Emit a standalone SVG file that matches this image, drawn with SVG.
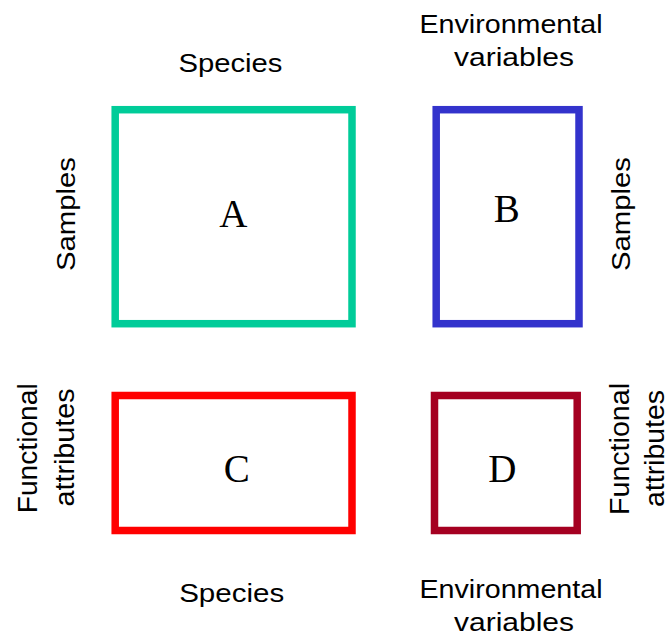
<svg xmlns="http://www.w3.org/2000/svg" width="670" height="641" viewBox="0 0 670 641">
<style>
.box{fill:none;stroke-width:7.5}
.let{font-family:"Liberation Serif","Times New Roman",serif;font-size:39px;fill:#000;text-anchor:middle}
.lab{font-family:"Liberation Sans",Arial,sans-serif;font-size:25px;fill:#000;text-anchor:middle}
.labv{font-family:"Liberation Sans",Arial,sans-serif;font-size:26px;fill:#000;text-anchor:middle}
.labf{font-family:"Liberation Sans",Arial,sans-serif;font-size:27px;fill:#000;text-anchor:middle}
</style>
<rect width="670" height="641" fill="#fff"/>
<g id="connectors"/>
<g id="nodeA">
<rect class="box" x="115.2" y="109.7" width="236.8" height="214" stroke="#00CC99"/>
<text class="let" x="233.3" y="226.7">A</text>
</g>
<g id="nodeB">
<rect class="box" x="436.2" y="109.7" width="142.8" height="214" stroke="#3333CC"/>
<text class="let" x="506.7" y="222.3">B</text>
</g>
<g id="nodeC">
<rect class="box" x="115.2" y="395.5" width="236.8" height="135" stroke="#FF0000"/>
<text class="let" x="236.7" y="481.7">C</text>
</g>
<g id="nodeD">
<rect class="box" x="434.5" y="395.5" width="142.7" height="135" stroke="#A50021"/>
<text class="let" x="502.3" y="481.7">D</text>
</g>
<g id="labels">
<text class="lab" x="230.5" y="72" textLength="104" lengthAdjust="spacingAndGlyphs">Species</text>
<text class="lab" x="231.7" y="602" textLength="105" lengthAdjust="spacingAndGlyphs">Species</text>
<text class="lab" x="511" y="33" textLength="183" lengthAdjust="spacingAndGlyphs">Environmental</text>
<text class="lab" x="514" y="66" textLength="120" lengthAdjust="spacingAndGlyphs">variables</text>
<text class="lab" x="511" y="598" textLength="183" lengthAdjust="spacingAndGlyphs">Environmental</text>
<text class="lab" x="514" y="631" textLength="120" lengthAdjust="spacingAndGlyphs">variables</text>
<text class="labv" transform="translate(75,214) rotate(-90)" x="0" y="0" textLength="114" lengthAdjust="spacingAndGlyphs">Samples</text>
<text class="labv" transform="translate(630,214) rotate(-90)" x="0" y="0" textLength="114" lengthAdjust="spacingAndGlyphs">Samples</text>
<text class="labf" transform="translate(37,448.3) rotate(-90)" x="0" y="0" textLength="130" lengthAdjust="spacingAndGlyphs">Functional</text>
<text class="labf" transform="translate(74,447.5) rotate(-90)" x="0" y="0" textLength="118" lengthAdjust="spacingAndGlyphs">attributes</text>
<text class="labf" transform="translate(629,449) rotate(-90)" x="0" y="0" textLength="132" lengthAdjust="spacingAndGlyphs">Functional</text>
<text class="labf" transform="translate(664,448.5) rotate(-90)" x="0" y="0" textLength="117" lengthAdjust="spacingAndGlyphs">attributes</text>
</g>
</svg>
